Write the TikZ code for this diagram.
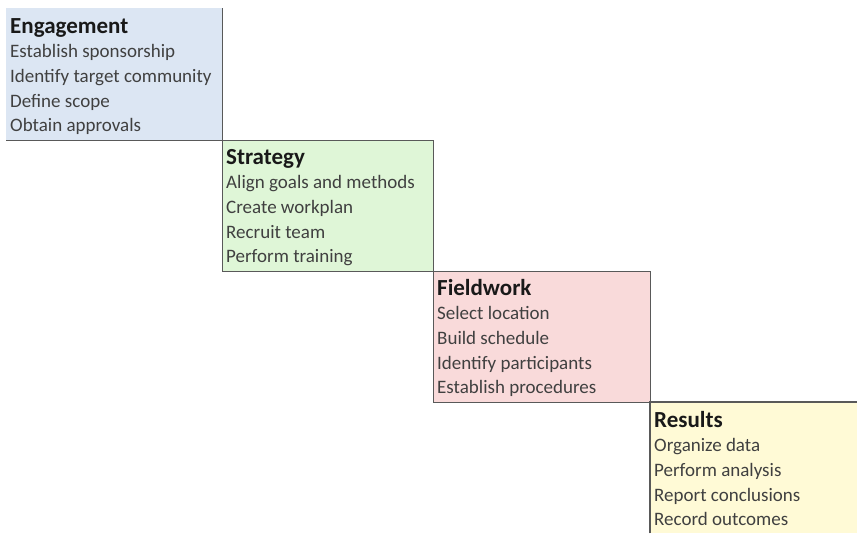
\documentclass[tikz,border=0pt]{standalone}
\usepackage{fontspec}
\setmainfont{Carlito}
\usepackage{tikz}
\usetikzlibrary{positioning}

\definecolor{engblue}{HTML}{DCE6F3}
\definecolor{strgreen}{HTML}{DFF6D7}
\definecolor{fldpink}{HTML}{F9DADA}
\definecolor{resyellow}{HTML}{FFFAD6}

\tikzset{
  stage/.style={rectangle, inner sep=0pt, anchor=north west},
  head/.style={anchor=base west, inner sep=0pt,
    font=\fontsize{23}{26}\selectfont\bfseries, text=black!90},
  item/.style={anchor=base west, inner sep=0pt,
    font=\fontsize{19}{22}\selectfont, text=black!75},
  rim/.style={draw=black!65, line width=1.2pt}
}

\begin{document}
\begin{tikzpicture}[x=1pt,y=-1pt]
\useasboundingbox (0,0) rectangle (857,533);

% Engagement
\node[stage, fill=engblue, minimum width=216pt, minimum height=132pt] (eng) at (6,8) {};
\draw[rim] (eng.north east) -- (eng.south east) -- (eng.south west);
\node[head] (engT) at (10,33) {Engagement};
\foreach \t [count=\i] in {Establish sponsorship, Identify target community,
    Define scope, Obtain approvals}{
  \node[item] (eng\i) at (10,{33+24.7*\i}) {\t};
}

% Strategy
\node[stage, fill=strgreen, rim, minimum width=211pt, minimum height=131pt] (str) at (222,140) {};
\node[head] (strT) at (226,164) {Strategy};
\foreach \t [count=\i] in {Align goals and methods, Create workplan,
    Recruit team, Perform training}{
  \node[item] (str\i) at (226,{164+24.7*\i}) {\t};
}

% Fieldwork
\node[stage, fill=fldpink, rim, minimum width=217pt, minimum height=131pt] (fld) at (433,271) {};
\node[head] (fldT) at (437,295) {Fieldwork};
\foreach \t [count=\i] in {Select location, Build schedule,
    Identify participants, Establish procedures}{
  \node[item] (fld\i) at (437,{295+24.7*\i}) {\t};
}

% Results
\node[stage, fill=resyellow, minimum width=207pt, minimum height=131pt] (res) at (650,402) {};
\draw[rim] (res.south west) -- (res.north west) -- (res.north east);
\node[head] (resT) at (654,427) {Results};
\foreach \t [count=\i] in {Organize data, Perform analysis,
    Report conclusions, Record outcomes}{
  \node[item] (res\i) at (654,{427+24.7*\i}) {\t};
}

\end{tikzpicture}
\end{document}
